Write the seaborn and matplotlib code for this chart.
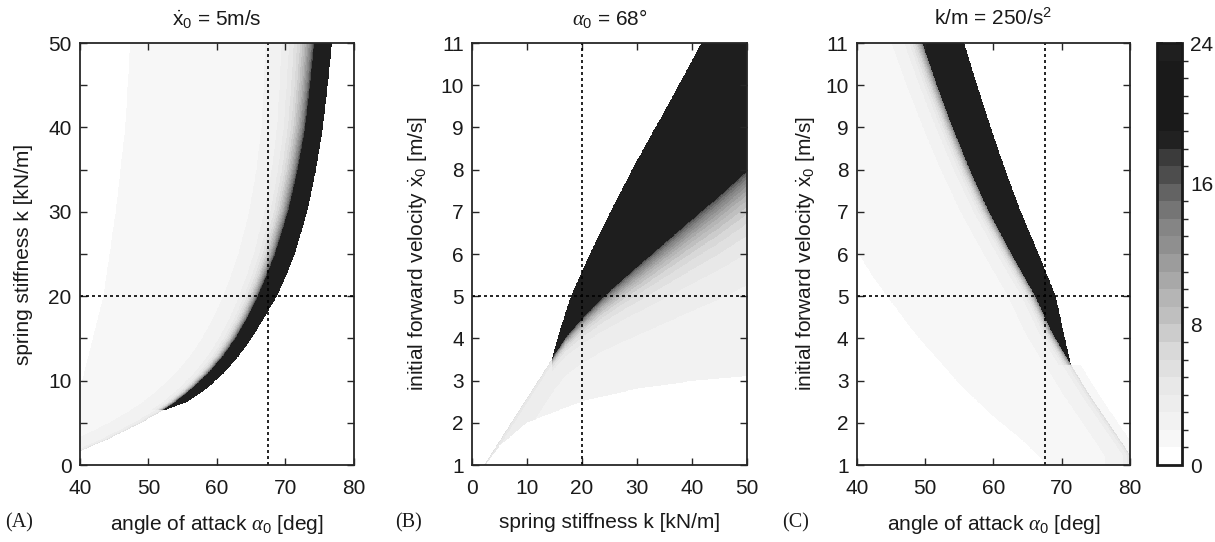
import numpy as np
import matplotlib
matplotlib.use("Agg")
import matplotlib.pyplot as plt
import seaborn as sns
from matplotlib.colors import ListedColormap, BoundaryNorm

# ---------------- data ----------------
# colour scale (number of steps), 24 discrete levels
CB_TICKS = [0, 8, 16, 24]
CB_GRAYS = [1.00, 0.97, 0.95, 0.93, 0.91, 0.88, 0.85, 0.80, 0.75, 0.71,
            0.66, 0.61, 0.56, 0.52, 0.46, 0.39, 0.30, 0.23, 0.13, 0.10,
            0.10, 0.10, 0.10, 0.12]

# Panel A: alpha0 [deg] vs k [kN/m], x0dot = 5 m/s
A_white_k = [0, 5, 9, 20, 30, 40, 50]
A_white_alpha = [36.0, 38.5, 40.0, 43.4, 45.2, 46.6, 47.3]
A_edge_k = [1.6, 3.0, 4.9, 6.5, 7.5, 9, 11, 13, 15, 17.5, 20, 22.5, 25, 30, 35, 40, 45, 50]
A_edge_alpha = [40.0, 44.0, 48.8, 52.2, 54.0, 56.3, 58.9, 61.0, 62.7, 64.5, 66.0,
                67.3, 68.5, 70.4, 71.8, 72.9, 73.6, 74.2]
A_band_k = [6.5, 7.5, 9, 11, 13, 15, 17.5, 20, 22.5, 25, 30, 35, 40, 45, 50]
A_band_right = [52.6, 55.8, 58.5, 61.2, 63.3, 65.1, 67.0, 68.8, 70.2, 71.4, 73.2,
                74.5, 75.5, 76.2, 76.8]
A_ref = (67.5, 20.0)

# Panel B: k [kN/m] vs x0dot [m/s], alpha0 = 68 deg
B_left_k = [2.2, 14.5, 16.0, 18.0, 22.0, 26.0, 30.0, 36.0, 41.8, 50.0]
B_left_v = [1.0, 3.5, 4.2, 5.0, 6.15, 7.2, 8.2, 9.6, 11.0, 13.0]
B_low_k = [14.5, 17.0, 20.0, 24.0, 28.0, 32.0, 36.0, 40.0, 45.0, 50.0]
B_low_v = [3.5, 4.0, 4.45, 4.98, 5.45, 5.9, 6.35, 6.8, 7.35, 7.94]
B_white_k = [2.5, 5.0, 10.0, 20.0, 30.0, 40.0, 50.0]
B_white_v = [1.0, 1.45, 2.0, 2.5, 2.8, 2.98, 3.1]
B_ref = (20.0, 5.0)

# Panel C: alpha0 [deg] vs x0dot [m/s], k/m = 250 /s^2
C_white_alpha = [40.0, 42.5, 45.0, 48.0, 51.2, 55.0, 59.5, 64.0, 67.8]
C_white_v = [6.05, 5.4, 4.85, 4.2, 3.6, 2.9, 2.2, 1.6, 1.0]
C_band_v = [3.37, 4.12, 5.0, 6.0, 7.0, 8.0, 9.0, 10.0, 11.0]
C_band_left = [71.25, 68.5, 66.0, 62.5, 59.2, 56.4, 53.9, 51.6, 49.5]
C_band_right = [71.25, 70.2, 69.0, 66.5, 63.9, 61.6, 59.5, 57.5, 55.6]
C_line_v = [1.2, 1.43, 2.62, 3.37]
C_line_alpha = [80.0, 79.1, 74.1, 71.25]
C_ref = (67.5, 5.0)

TITLES = [r"$\dot{\mathrm{x}}_0$ = 5m/s", r"$\alpha_0$ = 68°", r"k/m = 250/s$^2$"]
XLABELS = [r"angle of attack $\alpha_0$ [deg]", "spring stiffness k [kN/m]",
           r"angle of attack $\alpha_0$ [deg]"]
YLABELS = ["spring stiffness k [kN/m]",
           r"initial forward velocity $\dot{\mathrm{x}}_0$ [m/s]",
           r"initial forward velocity $\dot{\mathrm{x}}_0$ [m/s]"]
PANEL_TAGS = ["(A)", "(B)", "(C)"]

# ---------------- style ----------------
sns.set_theme(style="ticks")
plt.rcParams["font.family"] = ["Liberation Sans", "DejaVu Sans"]
plt.rcParams["mathtext.fontset"] = "custom"
plt.rcParams["mathtext.rm"] = "Liberation Sans"
plt.rcParams["mathtext.it"] = "Liberation Serif:italic"
plt.rcParams["mathtext.bf"] = "Liberation Sans:bold"
FS = 15
TXT = "#1a1a1a"

cmap = ListedColormap([(g, g, g) for g in CB_GRAYS])
norm = BoundaryNorm(np.arange(0, 25), cmap.N)
BLACK = 23.5


def field_A(a, k):
    wl = np.interp(k, A_white_k, A_white_alpha)
    edge = np.interp(k, A_edge_k, A_edge_alpha)
    br = np.interp(k, A_band_k, A_band_right)
    val = np.zeros_like(a)
    gray = (a >= wl) & (a < edge) & (k >= A_edge_k[0])
    d = edge - a
    w = 0.3 + 0.03 * k
    amp = np.where(k >= A_band_k[0], 14.0, 3.0)
    g = 1.3 + 1.8 * np.exp(-d / 5.0) + amp * np.exp(-d / w)
    val[gray] = g[gray]
    band = (k >= A_band_k[0]) & (a >= edge) & (a <= br)
    val[band] = BLACK
    return val


def field_B(kk, v):
    vul = np.interp(kk, B_left_k, B_left_v)
    vlb = np.interp(kk, B_low_k, B_low_v)
    vw = np.interp(kk, B_white_k, B_white_v)
    has_band = kk >= B_low_k[0]
    top = np.where(has_band, vlb, vul)
    val = np.zeros_like(kk)
    gray = (v >= vw) & (v < top) & (kk >= B_left_k[0])
    d = top - v
    w = 0.1 + 0.022 * np.maximum(kk - B_low_k[0], 0)
    amp = np.where(has_band, 13.0, 2.0)
    g = 2.0 + 1.5 * np.exp(-d / 2.0) + amp * np.exp(-d / w)
    val[gray] = g[gray]
    band = has_band & (v >= vlb) & (v <= vul)
    val[band] = BLACK
    return val


def field_C(a, v):
    vw = np.interp(a, C_white_alpha, C_white_v)
    abl = np.interp(v, C_band_v, C_band_left)
    abr = np.interp(v, C_band_v, C_band_right)
    aln = np.interp(v, C_line_v, C_line_alpha)
    has_band = v >= C_band_v[0]
    right = np.where(has_band, abl, aln)
    val = np.zeros_like(a)
    gray = (v >= vw) & (a < right) & (a <= 80.0)
    d = right - a
    amp = np.where(has_band, 11.0, 3.0)
    w = 0.45 + 0.05 * v
    g = 1.3 + 1.8 * np.exp(-d / 4.0) + amp * np.exp(-d / w)
    val[gray] = g[gray]
    band = has_band & (a >= abl) & (a <= abr)
    val[band] = BLACK
    fringe = (~has_band) & (a >= aln) & (a < aln + 1.4)
    val[fringe] = 1.2
    return val


fig = plt.figure(figsize=(12.15, 5.42), dpi=100)
bottom, height = 0.142, 0.7786
axes_pos = [[0.0658, bottom, 0.2255, height],
            [0.3885, bottom, 0.2263, height],
            [0.7053, bottom, 0.2247, height]]
axs = [fig.add_axes(p) for p in axes_pos]
ylabel_pads = [11, 8, 6]

specs = [
    (field_A, (40, 80), (0, 50), A_ref, np.arange(40, 81, 10), np.arange(0, 51, 10), np.arange(0, 51, 5)),
    (field_B, (0, 50), (1, 11), B_ref, np.arange(0, 51, 10), np.arange(1, 12, 1), None),
    (field_C, (40, 80), (1, 11), C_ref, np.arange(40, 81, 10), np.arange(1, 12, 1), None),
]

ims = []
for i, (ax, (fn, xr, yr, ref, xt, yt, ymin)) in enumerate(zip(axs, specs)):
    xs = np.linspace(xr[0], xr[1], 700)
    ys = np.linspace(yr[0], yr[1], 800)
    X, Y = np.meshgrid(xs, ys)
    Z = np.clip(fn(X, Y), 0, 23.99)
    im = ax.imshow(Z, origin="lower", extent=[xr[0], xr[1], yr[0], yr[1]],
                   aspect="auto", cmap=cmap, norm=norm, interpolation="nearest")
    ims.append(im)
    ax.axvline(ref[0], color="black", lw=1.2, ls=(0, (1.8, 1.8)))
    ax.axhline(ref[1], color="black", lw=1.2, ls=(0, (1.8, 1.8)))
    ax.set_xlim(*xr)
    ax.set_ylim(*yr)
    ax.set_xticks(xt)
    ax.set_yticks(yt)
    if ymin is not None:
        ax.set_yticks(ymin, minor=True)
    ax.tick_params(which="both", direction="in", top=True, right=True,
                   length=5, width=1.0, labelsize=FS, colors="#262626",
                   labelcolor=TXT)
    ax.tick_params(axis="x", pad=10)
    ax.tick_params(axis="y", pad=6)
    for sp in ax.spines.values():
        sp.set_linewidth(1.3)
        sp.set_color("#262626")
    ax.set_title(TITLES[i], fontsize=FS, color=TXT, pad=13)
    ax.set_xlabel(XLABELS[i], fontsize=FS, color=TXT, labelpad=11)
    ax.set_ylabel(YLABELS[i], fontsize=FS, color=TXT, labelpad=ylabel_pads[i])

tag_x = [0.004, 0.325, 0.644]
for tx, tag in zip(tag_x, PANEL_TAGS):
    fig.text(tx, 0.035, tag, fontsize=14.5, family="Liberation Serif",
             color=TXT, va="center", ha="left")

cax = fig.add_axes([0.9523, 0.142, 0.0206, 0.7786])
cb = fig.colorbar(ims[2], cax=cax, ticks=CB_TICKS)
cb.outline.set_linewidth(2.0)
cb.outline.set_edgecolor("#1a1a1a")
cax.tick_params(direction="in", length=4, width=1.2, left=True, right=True,
                labelsize=FS, labelcolor=TXT, colors="#1a1a1a", pad=6)
cax.set_yticklabels([str(t) for t in CB_TICKS])

fig.savefig("out.png", dpi=100)
